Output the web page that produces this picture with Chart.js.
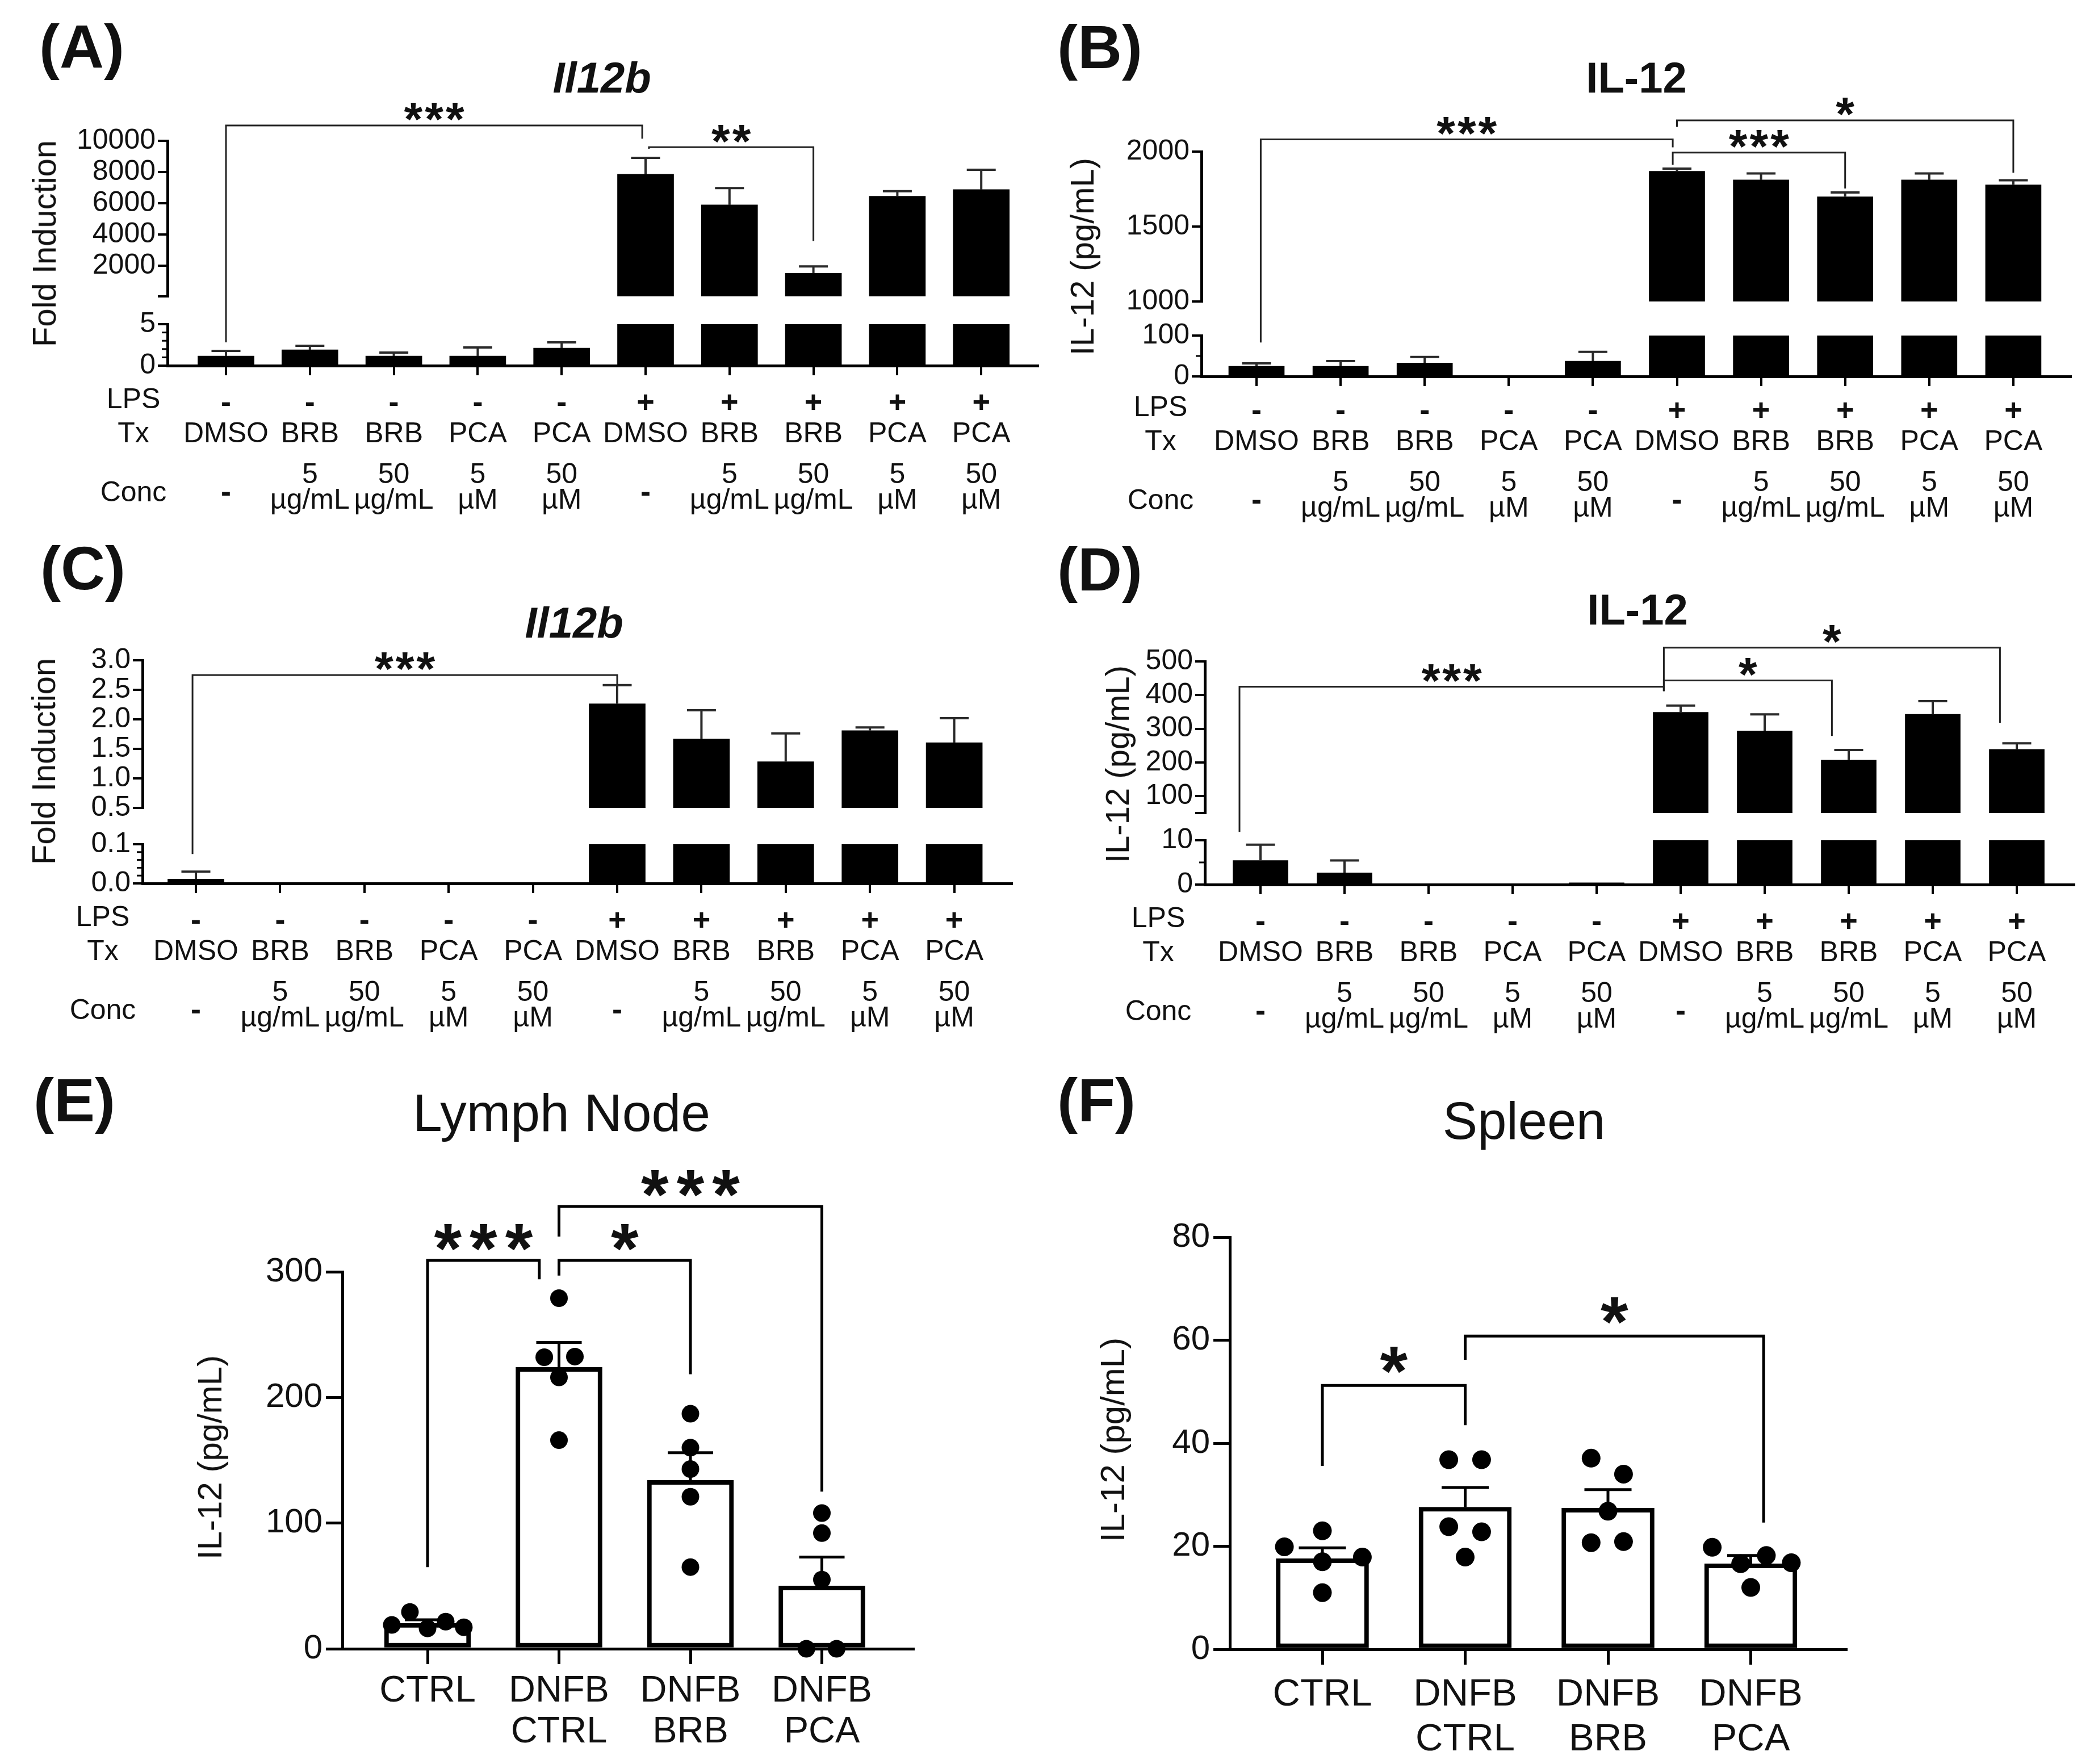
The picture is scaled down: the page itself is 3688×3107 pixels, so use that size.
<!DOCTYPE html>
<html>
<head>
<meta charset="utf-8">
<script src="https://cdn.jsdelivr.net/npm/chart.js@4.4.1/dist/chart.umd.min.js"></script>
<style>
html, body { margin: 0; padding: 0; background: #fff; }
#page { position: relative; width: 3688px; height: 3107px; overflow: hidden; background: #fff;
        font-family: 'Liberation Sans', Arial, sans-serif; color: #111; }
#page canvas { position: absolute; }
.t { position: absolute; white-space: nowrap; line-height: 1; }
</style>
</head>
<body>
<div id="page"></div>
<script>
// --- Data ---
// shared treatment rows for panels A-D
const lpsRow   = ['-', '-', '-', '-', '-', '+', '+', '+', '+', '+'];
const txRow    = ['DMSO', 'BRB', 'BRB', 'PCA', 'PCA', 'DMSO', 'BRB', 'BRB', 'PCA', 'PCA'];
const concNum  = ['-', '5', '50', '5', '50', '-', '5', '50', '5', '50'];
const concUnit = ['', 'µg/mL', 'µg/mL', 'µM', 'µM', '', 'µg/mL', 'µg/mL', 'µM', 'µM'];

// (A) Il12b fold induction, mean and mean+SEM
const aMean = [1.16, 1.92, 1.16, 1.16, 2.12, 7860, 5900, 1530, 6460, 6880];
const aErr  = [1.78, 2.40, 1.58, 2.20, 2.80, 8915, 6980, 1970, 6780, 8150];
// (B) IL-12 pg/mL
const bMean = [25, 25, 33, 0, 37.5, 1869, 1811, 1699, 1811, 1778];
const bErr  = [32, 37.5, 47.5, null, 60, 1886, 1854, 1727, 1854, 1809];
// (C) Il12b fold induction
const cMean = [0.011, 0, 0, 0, 0, 2.263, 1.668, 1.284, 1.81, 1.605];
const cErr  = [0.030, null, null, null, null, 2.58, 2.153, 1.763, 1.863, 2.02];
// (D) IL-12 pg/mL
const dMean = [5.45, 2.65, 0, 0, 0.4, 349, 294, 207, 343, 239];
const dErr  = [9.0, 5.45, null, null, null, 369, 343, 237, 382, 257];

// broken axis ticks (upper / lower segments)
const aUpTicks = [50, 2000, 4000, 6000, 8000, 10000], aLoTicks = [0, 5], aLoMinor = [1, 2, 3, 4];
const bUpTicks = [1000, 1500, 2000], bLoTicks = [0, 100], bLoMinor = [50];
const cUpTicks = [0.5, 1.0, 1.5, 2.0, 2.5, 3.0], cLoTicks = [0, 0.1], cLoMinor = [0.02, 0.04, 0.06, 0.08];
const dUpTicks = [50, 100, 200, 300, 400, 500], dLoTicks = [0, 10], dLoMinor = [5];

// (E) Lymph node, (F) Spleen
const efCats = [['CTRL'], ['DNFB', 'CTRL'], ['DNFB', 'BRB'], ['DNFB', 'PCA']];
const eMean = [20.3, 224, 134, 50];
const eErr  = [23, 243.7, 156, 73];
const ePoints = [[19, 29.3, 16.2, 21.6, 17.1], [279, 232, 232.5, 216, 166], [187, 160, 143, 121, 65], [108, 92, 55, 0, 0]];
const eJitter = [[-0.272, -0.134, 0, 0.138, 0.276], [0, -0.112, 0.121, 0, 0], [0, 0, 0, 0, 0], [0, 0, 0, -0.118, 0.112]];
const eTicks = [0, 100, 200, 300];
const fMean = [17.6, 27.6, 27.4, 16.6];
const fErr  = [19.7, 31.4, 31.0, 18.2];
const fPoints = [[19.9, 23, 17, 17.9, 11], [36.8, 36.8, 23.8, 22.8, 17.9], [37.1, 34, 26.8, 20.7, 20.9], [19.8, 16.6, 18.2, 16.8, 12.0]];
const fJitter = [[-0.266, 0, 0, 0.28, 0], [-0.115, 0.115, -0.115, 0.115, 0], [-0.118, 0.109, 0, -0.118, 0.109], [-0.27, -0.071, 0.109, 0.284, 0]];
const fTicks = [0, 20, 40, 60, 80];

// significance brackets: x1,x2 group index; y bracket height; y1,y2 leg ends (lo = on lower segment)
const aSig = [
  {x1: 0, x2: 4.96, y: 10983, y1: 2.8, lo1: true, y2: 10136, lab: '***'},
  {x1: 5.04, x2: 7, y: 9593, y1: 9490, y2: 3593, lab: '**'}
];
const bSig = [
  {x1: 0.05, x2: 4.95, y: 2081, y1: 83, lo1: true, y2: 2028, lab: '***'},
  {x1: 4.95, x2: 7, y: 1993, y1: 1912, y2: 1754, lab: '***'},
  {x1: 5, x2: 9, y: 2208, y1: 2165, y2: 1859, lab: '*'}
];
const cSig = [
  {x1: -0.04, x2: 5, y: 2.75, y1: 0.075, lo1: true, y2: 2.59, lab: '***'}
];
const dSig = [
  {x1: -0.25, x2: 4.8, y: 425, y1: 11.9, lo1: true, y2: 412, lab: '***'},
  {x1: 4.8, x2: 6.8, y: 443.5, y1: 412, y2: 279, lab: '*'},
  {x1: 4.8, x2: 8.8, y: 541, y1: 412, y2: 318, lab: '*'}
];
const eSig = [
  {x1: 0, x2: 0.85, y: 309, y1: 65, y2: 294, lab: '***'},
  {x1: 1, x2: 2, y: 309, y1: 297, y2: 218.5, lab: '*'},
  {x1: 1, x2: 3, y: 352, y1: 328, y2: 125, lab: '***'}
];
const fSig = [
  {x1: 0, x2: 1, y: 51.2, y1: 35.6, y2: 43.5, lab: '*'},
  {x1: 1, x2: 3.09, y: 60.8, y1: 56.2, y2: 24.6, lab: '*'}
];

// --- Layout (page pixels) ---
const FF = "'Liberation Sans', Arial, sans-serif";
const LAY = {
  A: {box: [0, 0, 1844, 930], L: 295, R: 1828, c0: 398, sp: 147.8, up: [248, 542], lo: [571, 644], barW: 99, rowX: 235},
  B: {box: [1844, 0, 1844, 930], L: 2116, R: 3647, c0: 2213, sp: 148.1, up: [267, 551], lo: [591, 663], barW: 98, rowX: 2044, rowShift: -5},
  C: {box: [0, 930, 1844, 910], L: 251, R: 1782, c0: 345, sp: 148.4, up: [1163, 1443], lo: [1487, 1556], barW: 99, rowX: 181},
  D: {box: [1844, 930, 1844, 910], L: 2122, R: 3653, c0: 2220, sp: 148, up: [1165, 1452], lo: [1480, 1558], barW: 97, rowX: 2040},
  E: {box: [0, 1840, 1844, 1267], L: 603, R: 1608, T: 2240, B: 2904, c0: 753, sp: 231.5, barW: 152, dotR: 15.5, cap: 80,
      catFont: 65, catOff: [93, 165], sigOff: 50},
  F: {box: [1844, 1840, 1844, 1267], L: 2166, R: 3251, T: 2179, B: 2905, c0: 2329, sp: 251.5, barW: 163, dotR: 16.5, cap: 83,
      catFont: 67, catOff: [99, 178], sigOff: 54}
};
const topSig = {lw: 3, color: '#222', size: 84, ls: 4, off: 30};

Chart.defaults.font.family = FF;
Chart.defaults.color = '#111';
const page = document.getElementById('page');

function mkCanvas(box) {
  const cv = document.createElement('canvas');
  cv.width = box[2]; cv.height = box[3];
  cv.style.left = box[0] + 'px'; cv.style.top = box[1] + 'px';
  cv.style.width = box[2] + 'px'; cv.style.height = box[3] + 'px';
  page.appendChild(cv);
  return cv;
}

function xRange(P, n) {
  return {min: (P.L - P.c0) / P.sp, max: (n - 1) + (P.R - (P.c0 + (n - 1) * P.sp)) / P.sp};
}

// --- Plugins ---
function errPlug(mean, err, o) {
  return {
    id: 'errBars',
    afterDatasetDraw(chart, args) {
      if (args.index !== 0) return;
      const {ctx, chartArea: a} = chart, xs = chart.scales.x, ys = chart.scales.y;
      ctx.save();
      ctx.beginPath(); ctx.rect(0, a.top - 6, chart.width, a.bottom - a.top + 6); ctx.clip();
      ctx.strokeStyle = o.color; ctx.lineWidth = o.width;
      mean.forEach((v, i) => {
        const e = err[i];
        if (e == null) return;
        if (o.above != null && v <= o.above) return;
        if (o.below != null && e > o.below) return;
        const x = xs.getPixelForValue(i), y0 = ys.getPixelForValue(v), y1 = ys.getPixelForValue(e);
        ctx.beginPath();
        ctx.moveTo(x, y0); ctx.lineTo(x, y1);
        ctx.moveTo(x - o.cap / 2, y1); ctx.lineTo(x + o.cap / 2, y1);
        ctx.stroke();
      });
      ctx.restore();
    }
  };
}

function minorPlug(vals) {
  return {
    id: 'minorTicks',
    afterDraw(chart) {
      const ctx = chart.ctx, ys = chart.scales.y, x = chart.chartArea.left;
      ctx.save(); ctx.strokeStyle = '#000'; ctx.lineWidth = 3;
      vals.forEach(v => {
        const y = ys.getPixelForValue(v);
        ctx.beginPath(); ctx.moveTo(x - 10, y); ctx.lineTo(x, y); ctx.stroke();
      });
      ctx.restore();
    }
  };
}

function rowPlug(P) {
  return {
    id: 'rows',
    afterDraw(chart) {
      const ctx = chart.ctx, xs = chart.scales.x, b = chart.chartArea.bottom + (P.rowShift || 0);
      ctx.save(); ctx.fillStyle = '#111'; ctx.textAlign = 'center'; ctx.textBaseline = 'alphabetic';
      lpsRow.forEach((s, i) => {
        const x = xs.getPixelForValue(i);
        ctx.font = 'bold 54px ' + FF; ctx.fillText(s, x, b + 82);
        ctx.font = '50px ' + FF; ctx.fillText(txRow[i], x, b + 135);
        if (concNum[i] === '-') {
          ctx.font = 'bold 54px ' + FF; ctx.fillText('-', x, b + 240);
        } else {
          ctx.font = '50px ' + FF;
          ctx.fillText(concNum[i], x, b + 207);
          ctx.fillText(concUnit[i], x, b + 252);
        }
      });
      ctx.restore();
    }
  };
}

function catPlug(cats, offs, size) {
  return {
    id: 'cats',
    afterDraw(chart) {
      const ctx = chart.ctx, xs = chart.scales.x, b = chart.chartArea.bottom;
      ctx.save(); ctx.font = size + 'px ' + FF; ctx.fillStyle = '#111'; ctx.textAlign = 'center';
      cats.forEach((lines, i) => lines.forEach((t, k) => ctx.fillText(t, xs.getPixelForValue(i), b + offs[k])));
      ctx.restore();
    }
  };
}

function sigPlug(items, lower, st) {
  return {
    id: 'sig',
    afterDraw(chart) {
      const ctx = chart.ctx, xs = chart.scales.x, yu = chart.scales.y, yl = lower ? lower.scales.y : yu;
      ctx.save();
      ctx.strokeStyle = st.color; ctx.lineWidth = st.lw; ctx.fillStyle = '#111';
      ctx.font = 'bold ' + st.size + 'px ' + FF; ctx.textAlign = 'center'; ctx.textBaseline = 'alphabetic';
      if ('letterSpacing' in ctx) ctx.letterSpacing = st.ls + 'px';
      items.forEach(b => {
        const X1 = xs.getPixelForValue(b.x1), X2 = xs.getPixelForValue(b.x2), Y = yu.getPixelForValue(b.y);
        const Y1 = (b.lo1 ? yl : yu).getPixelForValue(b.y1), Y2 = (b.lo2 ? yl : yu).getPixelForValue(b.y2);
        ctx.beginPath(); ctx.moveTo(X1, Y1); ctx.lineTo(X1, Y); ctx.lineTo(X2, Y); ctx.lineTo(X2, Y2); ctx.stroke();
        ctx.fillText(b.lab, (X1 + X2) / 2 + st.ls / 2, Y - st.off + 0.575 * st.size);
      });
      ctx.restore();
    }
  };
}

// --- Chart builders ---
function segChart(P, seg, n, datasets, plugins) {
  const [bx, by, bw, bh] = P.box;
  const xr = xRange(P, n);
  const XH = 20;
  return new Chart(mkCanvas(P.box), {
    type: 'bar',
    data: {datasets},
    options: {
      responsive: false, animation: false, devicePixelRatio: 1, events: [],
      layout: {padding: {left: 0, right: bx + bw - P.R, top: seg.T - by, bottom: by + bh - seg.B - (seg.showX ? XH : 0)}},
      plugins: {legend: {display: false}, tooltip: {enabled: false}},
      scales: {
        x: {type: 'linear', min: xr.min, max: xr.max, display: seg.showX, offset: false,
            afterBuildTicks: s => { s.ticks = Array.from({length: n}, (_, i) => ({value: i})); },
            afterFit: s => { s.height = XH; },
            ticks: {display: false},
            grid: {offset: false, drawOnChartArea: false, tickLength: 17, lineWidth: 4, color: '#000'},
            border: {display: true, width: 5, color: '#000'}},
        y: {type: 'linear', min: seg.min, max: seg.max,
            afterBuildTicks: s => { s.ticks = seg.ticks.map(v => ({value: v})); },
            afterFit: s => { s.width = P.L - bx; },
            ticks: {font: {size: 50}, padding: 4, color: '#111', autoSkip: false, callback: seg.fmt},
            grid: {drawOnChartArea: false, tickLength: 17, lineWidth: 4, color: '#000'},
            border: {display: true, width: 5, color: '#000'}}
      }
    },
    plugins
  });
}

function brokenPanel(P, mean, err, up, lo, sig) {
  const n = mean.length;
  const mk = () => [{data: mean.map((v, i) => ({x: i, y: v})), backgroundColor: '#000', borderWidth: 0,
                     barThickness: P.barW, clip: 0}];
  const es = {cap: 51, width: 4, color: '#2a2a2a'};
  const low = segChart(P, Object.assign({T: P.lo[0], B: P.lo[1], showX: true}, lo), n, mk(),
    [errPlug(mean, err, Object.assign({below: lo.max}, es)), minorPlug(lo.minor || []), rowPlug(P)]);
  segChart(P, Object.assign({T: P.up[0], B: P.up[1], showX: false}, up), n, mk(),
    [errPlug(mean, err, Object.assign({above: lo.max}, es)), sigPlug(sig, low, topSig)]);
}

function dotPanel(P, mean, err, pts, jit, ticks, sig) {
  const n = mean.length;
  const [bx, by, bw, bh] = P.box;
  const xr = xRange(P, n);
  const XH = 30;
  const dots = [];
  pts.forEach((arr, i) => arr.forEach((v, k) => dots.push({x: i + jit[i][k], y: v})));
  new Chart(mkCanvas(P.box), {
    type: 'bar',
    data: {datasets: [
      {data: mean.map((v, i) => ({x: i, y: v})), backgroundColor: '#fff', borderColor: '#000', borderWidth: 8,
       borderSkipped: false, barThickness: P.barW, order: 2, clip: 0},
      {type: 'scatter', data: dots, pointRadius: P.dotR, backgroundColor: '#000', pointBackgroundColor: '#000',
       pointBorderWidth: 0, borderWidth: 0, order: 1, clip: false}
    ]},
    options: {
      responsive: false, animation: false, devicePixelRatio: 1, events: [],
      layout: {padding: {left: 0, right: bx + bw - P.R, top: P.T - by, bottom: by + bh - P.B - XH}},
      plugins: {legend: {display: false}, tooltip: {enabled: false}},
      scales: {
        x: {type: 'linear', min: xr.min, max: xr.max, offset: false,
            afterBuildTicks: s => { s.ticks = Array.from({length: n}, (_, i) => ({value: i})); },
            afterFit: s => { s.height = XH; },
            ticks: {display: false},
            grid: {offset: false, drawOnChartArea: false, tickLength: 27, lineWidth: 5, color: '#000'},
            border: {display: true, width: 5, color: '#000'}},
        y: {type: 'linear', min: ticks[0], max: ticks[ticks.length - 1],
            afterBuildTicks: s => { s.ticks = ticks.map(v => ({value: v})); },
            afterFit: s => { s.width = P.L - bx; },
            ticks: {font: {size: 60}, padding: 6, color: '#111', autoSkip: false},
            grid: {drawOnChartArea: false, tickLength: 29, lineWidth: 5, color: '#000'},
            border: {display: true, width: 5, color: '#000'}}
      }
    },
    plugins: [errPlug(mean, err, {cap: P.cap, width: 5, color: '#000'}), catPlug(efCats, P.catOff, P.catFont),
              sigPlug(sig, null, {lw: 5, color: '#000', size: 125, ls: 14, off: P.sigOff})]
  });
}

// --- Build panels ---
const f1 = v => v.toFixed(1);
brokenPanel(LAY.A, aMean, aErr,
  {min: 50, max: 10000, ticks: aUpTicks, fmt: v => v === 50 ? '' : String(v)},
  {min: 0, max: 5, ticks: aLoTicks, minor: aLoMinor, fmt: v => String(v)}, aSig);
brokenPanel(LAY.B, bMean, bErr,
  {min: 1000, max: 2000, ticks: bUpTicks, fmt: v => String(v)},
  {min: 0, max: 100, ticks: bLoTicks, minor: bLoMinor, fmt: v => String(v)}, bSig);
brokenPanel(LAY.C, cMean, cErr,
  {min: 0.5, max: 3.0, ticks: cUpTicks, fmt: f1},
  {min: 0, max: 0.1, ticks: cLoTicks, minor: cLoMinor, fmt: f1}, cSig);
brokenPanel(LAY.D, dMean, dErr,
  {min: 50, max: 500, ticks: dUpTicks, fmt: v => v === 50 ? '' : String(v)},
  {min: 0, max: 10, ticks: dLoTicks, minor: dLoMinor, fmt: v => String(v)}, dSig);
dotPanel(LAY.E, eMean, eErr, ePoints, eJitter, eTicks, eSig);
dotPanel(LAY.F, fMean, fErr, fPoints, fJitter, fTicks, fSig);

// --- Static text ---
function addText(txt, x, base, size, font, center) {
  const d = document.createElement('div');
  d.className = 't'; d.textContent = txt;
  d.style.font = font + ' ' + size + 'px ' + FF; d.style.lineHeight = '1';
  d.style.left = x + 'px'; d.style.top = (base - 0.8465 * size) + 'px';
  if (center) d.style.transform = 'translateX(-50%)';
  page.appendChild(d);
}
function addVText(txt, cx, cy, size) {
  const d = document.createElement('div');
  d.className = 't'; d.textContent = txt;
  d.style.font = size + 'px ' + FF; d.style.lineHeight = '1';
  d.style.left = cx + 'px'; d.style.top = cy + 'px';
  d.style.transform = 'translate(-50%, -50%) rotate(-90deg)';
  page.appendChild(d);
}

[['(A)', 69, 119], ['(B)', 1862, 120], ['(C)', 71, 1038], ['(D)', 1862, 1040], ['(E)', 59, 1975], ['(F)', 1862, 1975]]
  .forEach(p => addText(p[0], p[1], p[2], 108, 'bold', false));
[['Il12b', 1060, 163, 76, 'italic bold'], ['IL-12', 2882, 163, 76, 'bold'], ['Il12b', 1011, 1123, 76, 'italic bold'],
 ['IL-12', 2884, 1100, 76, 'bold'], ['Lymph Node', 989, 1993, 93, 'normal'], ['Spleen', 2684, 2006, 92, 'normal']]
  .forEach(p => addText(p[0], p[1], p[2], p[3], p[4], true));
[['Fold Induction', 78, 429, 58], ['IL-12 (pg/mL)', 1906, 452, 58], ['Fold Induction', 77, 1341, 58],
 ['IL-12 (pg/mL)', 1968, 1346, 58], ['IL-12 (pg/mL)', 370, 2567, 60], ['IL-12 (pg/mL)', 1960, 2536, 60]]
  .forEach(p => addVText(p[0], p[1], p[2], p[3]));
['A', 'B', 'C', 'D'].forEach(k => {
  const P = LAY[k], ax = P.lo[1] + (P.rowShift || 0);
  addText('LPS', P.rowX, ax + 75, 50, 'normal', true);
  addText('Tx', P.rowX, ax + 135, 50, 'normal', true);
  addText('Conc', P.rowX, ax + 239, 50, 'normal', true);
});
</script>
</body>
</html>
